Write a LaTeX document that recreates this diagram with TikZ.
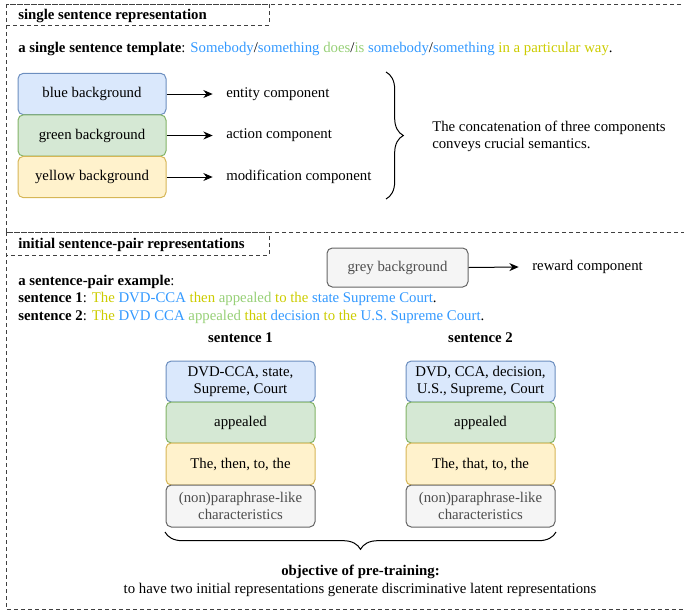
\documentclass[tikz,border=0pt]{standalone}
\usepackage{fontspec}
\setmainfont{Liberation Serif}
\usetikzlibrary{arrows.meta,decorations.pathreplacing}
\definecolor{tblue}{HTML}{3399FF}
\definecolor{tgreen}{HTML}{97D077}
\definecolor{tyellow}{HTML}{CCCC00}
\definecolor{bfill}{HTML}{DAE8FC}
\definecolor{bdraw}{HTML}{6C8EBF}
\definecolor{gfill}{HTML}{D5E8D4}
\definecolor{gdraw}{HTML}{82B366}
\definecolor{yfill}{HTML}{FFF2CC}
\definecolor{ydraw}{HTML}{D6B656}
\definecolor{rfill}{HTML}{F5F5F5}
\definecolor{rdraw}{HTML}{666666}
\definecolor{rtext}{HTML}{4D4D4D}
\newcommand{\cb}[1]{\textcolor{tblue}{#1}}
\newcommand{\cg}[1]{\textcolor{tgreen}{#1}}
\newcommand{\cy}[1]{\textcolor{tyellow}{#1}}
\newcommand{\fs}{\fontsize{11.1}{13}\selectfont}
\tikzset{
  dashbox/.style={draw=black!75, line width=0.75pt, dash pattern=on 3pt off 2.25pt},
  cbox/.style={rounded corners=4pt, line width=0.75pt, align=center, inner sep=0pt, minimum width=111pt, minimum height=31pt},
  bluebox/.style={cbox, draw=bdraw, fill=bfill},
  greenbox/.style={cbox, draw=gdraw, fill=gfill},
  yellowbox/.style={cbox, draw=ydraw, fill=yfill},
  greybox/.style={cbox, draw=rdraw, fill=rfill, text=rtext},
  lbl/.style={anchor=base west, inner sep=0pt},
  arr/.style={-{Stealth[length=7pt,width=6pt]}, line width=0.75pt},
  bracestyle/.style={decorate, decoration={brace, amplitude=13pt}, line width=0.75pt},
}
\begin{document}
\begin{tikzpicture}[x=0.75pt,y=-0.75pt, font=\fs]
\useasboundingbox (0,0) rectangle (684,611);
\clip (0,0) rectangle (684,611);
% section frames
\draw[dashbox] (6,4) rectangle (700,232);
\draw[dashbox] (6,4) rectangle (269,25);
\draw[dashbox] (6,232) rectangle (700,609);
\draw[dashbox] (6,232) rectangle (269,255);
\node[lbl] (t1) at (18,19.5) {\textbf{single sentence representation}};
\node[lbl] (t2) at (18,248.5) {\textbf{initial sentence-pair representations}};
% template
\node[lbl] (tmpl) at (18,52.5) {\textbf{a single sentence template}: \cb{Somebody}/\cb{something} \cg{does}/\cg{is} \cb{somebody}/\cb{something} \cy{in a particular way}.};
% component boxes
\node[bluebox] (b1) at (92,94) {blue background};
\node[greenbox] (g1) at (92,135.5) {green background};
\node[yellowbox] (y1) at (92,177) {yellow background};
\node[lbl, anchor=west] (e1) at (226,94) {entity component};
\node[lbl, anchor=west] (e2) at (226,135.5) {action component};
\node[lbl, anchor=west] (e3) at (226,177) {modification component};
\draw[arr] (b1.east) -- ([xshift=-10pt]e1.west);
\draw[arr] (g1.east) -- ([xshift=-10pt]e2.west);
\draw[arr] (y1.east) -- ([xshift=-10pt]e3.west);
\coordinate (bra) at (386,72);
\coordinate (brb) at (386,199);
\draw[bracestyle] (bra) -- (brb);
\node[lbl, anchor=west, align=left] (conc) at (432,136.5) {The concatenation of three components\\conveys crucial semantics.};
% reward
\node[greybox, minimum width=105.75pt, minimum height=29.25pt] (gr) at (397.5,267.5) {grey background};
\node[lbl, anchor=west] (rw) at (532,267) {reward component};
\draw[arr] (gr.east) -- ([xshift=-10pt]rw.west);
% example
\node[lbl] (ex) at (18,285.5) {\textbf{a sentence-pair example}:};
\node[lbl] (s1) at (18,302.5) {\textbf{sentence 1}: \cy{The} \cb{DVD-CCA} \cy{then} \cg{appealed} \cy{to the} \cb{state Supreme Court}.};
\node[lbl] (s2) at (18,320.5) {\textbf{sentence 2}: \cy{The} \cb{DVD CCA} \cg{appealed} \cy{that} \cb{decision} \cy{to the} \cb{U.S. Supreme Court}.};
% stacks
\node[font=\fs\bfseries] (h1) at (240.5,338) {sentence 1};
\node[font=\fs\bfseries] (h2) at (480.5,338) {sentence 2};
\node[bluebox, minimum width=111.75pt, minimum height=30.75pt] (a1) at (240.5,381.5) {DVD-CCA, state,\\Supreme, Court};
\node[greenbox, minimum width=111.75pt, minimum height=30.75pt] (a2) at (240.5,422.5) {appealed};
\node[yellowbox, minimum width=111.75pt, minimum height=31.5pt] (a3) at (240.5,464) {The, then, to, the};
\node[greybox, minimum width=111.75pt, minimum height=31.5pt] (a4) at (240.5,506) {(non)paraphrase-like\\characteristics};
\node[bluebox, minimum width=111.75pt, minimum height=30.75pt] (c1) at (480.5,381.5) {DVD, CCA, decision,\\U.S., Supreme, Court};
\node[greenbox, minimum width=111.75pt, minimum height=30.75pt] (c2) at (480.5,422.5) {appealed};
\node[yellowbox, minimum width=111.75pt, minimum height=31.5pt] (c3) at (480.5,464) {The, that, to, the};
\node[greybox, minimum width=111.75pt, minimum height=31.5pt] (c4) at (480.5,506) {(non)paraphrase-like\\characteristics};
\coordinate (bba) at (556,532);
\coordinate (bbb) at (165,532);
\draw[bracestyle] (bba) -- (bbb);
\node[font=\fs\bfseries] (obj) at (360.5,572) {objective of pre-training:};
\node (objt) at (360,590) {to have two initial representations generate discriminative latent representations};
\end{tikzpicture}
\end{document}
